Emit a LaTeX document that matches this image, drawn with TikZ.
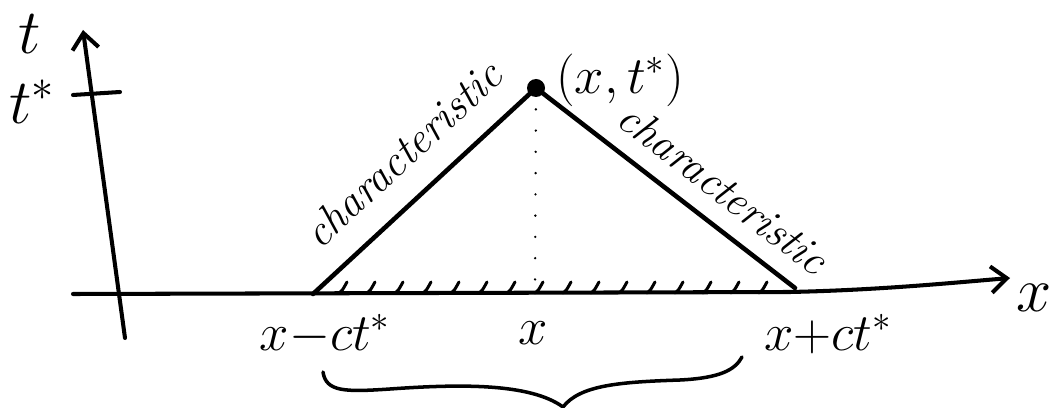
\RequirePackage{fix-cm}
\documentclass[tikz,border=0pt]{standalone}
\usepackage{tikz}
\usetikzlibrary{arrows.meta, calc}
\tikzset{
  axis/.style={line width=2.3pt, line cap=round},
  tipbarb/.style={-{Straight Barb[length=9pt, width=15pt, line width=2.3pt]}},
  charline/.style={line width=2.6pt, line cap=round},
  hatch/.style={line width=1.7pt, line cap=round},
  dotline/.style={line width=1.4pt, line cap=round, dash pattern=on 0.1pt off 12pt},
  lbl/.style={inner sep=0pt, font=\fontsize{36}{40}\selectfont},
  smalllbl/.style={inner sep=0pt, font=\fontsize{30}{34}\selectfont},
  charlbl/.style={inner sep=0pt, font=\fontsize{25}{28}\selectfont\itshape}
}
\begin{document}
\begin{tikzpicture}[x=0.02cm, y=-0.02cm]
\useasboundingbox (0,0) rectangle (1050,408);
% axes
\coordinate (tbot) at (125,338);
\coordinate (ttop) at (83,30);
\coordinate (xleft) at (73,294);
\coordinate (xright) at (1010,278);
\draw[axis, tipbarb] (tbot) -- (ttop);
\draw[axis, tipbarb] (xleft) -- (790,292) .. controls (880,290) and (950,283) .. (xright);
\draw[axis] (73,95) -- (120,92);
\node[lbl] (tlab) at (30,34) {$t$};
\node[lbl] (tstar) at (32,102) {$t^*$};
\node[lbl] (xlab) at (1034,298) {$x$};
% characteristics
\coordinate (lfoot) at (313,294);
\coordinate (rfoot) at (795,288);
\coordinate (apex) at (536,88);
\draw[dotline] (apex) -- (535,292);
\draw[charline] (lfoot) -- node[charlbl, sloped, above=14pt, pos=0.53] (lchar) {characteristic} (apex);
\draw[charline] (apex) -- node[charlbl, sloped, above=10pt, pos=0.64] (rchar) {characteristic} (rfoot);
\fill (apex) circle (9);
\node[smalllbl] (plab) at (620,80) {$(x,t^*)$};
% domain of dependence
\foreach \hx in {342,370,...,762}
  \draw[hatch] (\hx-3,293) .. controls (\hx,291) .. (\hx+5,282);
\node[smalllbl] (xm) at (325,335) {$x{-}ct^*$};
\node[smalllbl] (xc) at (533,333) {$x$};
\node[smalllbl] (xp) at (828,334) {$x{+}ct^*$};
\draw[line width=2pt, line cap=round] (323,372) .. controls (326,392) and (345,392) .. (390,389)
  .. controls (460,384) and (530,383) .. (563,407)
  .. controls (580,385) and (620,382) .. (680,380)
  .. controls (720,378) and (735,370) .. (742,357);
\end{tikzpicture}
\end{document}
